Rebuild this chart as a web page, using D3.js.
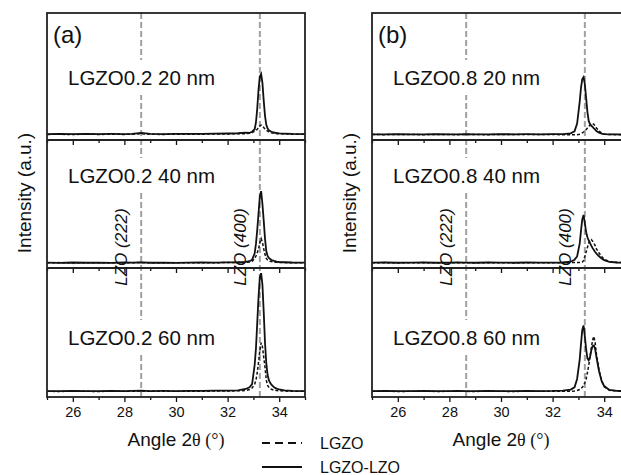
<!DOCTYPE html>
<html>
<head>
<meta charset="utf-8">
<script src="https://cdn.jsdelivr.net/npm/d3@7"></script>
<style>
  body { margin: 0; background: #fff; }
  svg { display: block; font-family: "Liberation Sans", Arial, sans-serif; }
</style>
</head>
<body>
<div id="chart"></div>
<script>
// 2theta grid shared by every scan (degrees)
const angles = [25, 25.5, 26, 26.5, 27, 27.5, 28, 28.3, 28.65, 29, 29.5, 30, 30.5, 31, 31.5, 32, 32.4, 32.7, 32.85, 32.95,
    33.05, 33.1, 33.15, 33.2, 33.25, 33.3, 33.35, 33.4, 33.45, 33.5, 33.55, 33.6, 33.65, 33.7, 33.8, 33.9, 34.0, 34.2, 34.5, 35];

// intensities (a.u., % of the sub-panel height)
const a20 =    [4.4,4.5,4.3,4.6,4.4,4.5,4.4,4.6,5.0,4.5, 4.4,4.6,4.5,4.6,4.7,4.8,4.9,5.0,5.3,5.8, 6.8,7.6,8.5,9.8,11.2,11.8,11.2,9.8,8.6,7.8, 7.0,6.4,6.0,5.6,5.2,5.0,4.9,4.7,4.6,4.5];
const a20Lzo = [4.6,4.8,4.6,4.9,4.7,4.8,4.7,4.9,5.6,4.8, 4.7,4.9,4.8,4.9,5.0,5.1,5.3,5.8,5.6,6.5, 8.5,14,25,40,50,52,45,31,19,12, 9,7.8,7,6.5,5.9,5.5,5.2,5.0,4.8,4.7];
const a40 =    [4.1,4.2,4.0,4.2,4.1,4.2,4.0,4.1,4.3,4.0, 4.1,4.2,4.1,4.2,4.1,4.3,4.3,4.4,4.6,5.2, 7.5,9.5,12,15,20,23,20,15,10.5,7.5, 6.2,5.5,5.2,5.0,4.6,4.4,4.3,4.2,4.1,4.1];
const a40Lzo = [4.2,4.0,4.3,4.1,4.2,4.0,4.3,4.2,4.4,4.1, 4.2,4.0,4.2,4.3,4.2,4.4,4.5,4.8,5.3,6.5, 11.5,19,30,43,56,60,50,37,23,13, 9.5,7.8,7,6.2,5.5,5,4.7,4.5,4.3,4.2];
const a60 =    [4.4,4.3,4.5,4.4,4.3,4.5,4.4,4.5,4.6,4.4, 4.5,4.4,4.5,4.4,4.6,4.7,4.8,5,5.8,7, 10,13,19,27,36,42,39,31,23,13, 9,7.5,6.5,6,5.3,5,4.8,4.6,4.5,4.4];
const a60Lzo = [4.6,4.5,4.7,4.5,4.6,4.8,4.6,4.7,4.9,4.6, 4.7,4.6,4.8,4.7,4.9,5.0,5.2,6.2,7.5,10, 25,38,58,78,93,96,87,66,42,26, 17,13,11,9.5,7.5,6.5,6,5.2,4.8,4.6];
const b20 =    [4.3,4.2,4.4,4.3,4.2,4.4,4.3,4.2,4.4,4.3, 4.2,4.4,4.3,4.4,4.3,4.3,4.2,4.2,4.2,4.2, 4.6,5,5.6,6.3,7.2,8.3,9.5,10.5,11.8,12.8, 13,12.4,11,9.5,7,5.5,4.8,4.3,4.2,4.3];
const b20Lzo = [4.5,4.4,4.6,4.5,4.4,4.6,4.5,4.4,4.6,4.5, 4.4,4.6,4.5,4.6,4.5,4.6,4.6,5.2,6.8,13, 30,41,48,49.5,44,33,22,15,12.5,11.2, 10.3,9.2,8.2,7,5.8,5,4.6,4.5,4.4,4.5];
const b40 =    [4.1,4.2,4.0,4.1,4.2,4.0,4.1,4.2,4.1,4.0, 4.2,4.1,4.0,4.2,4.1,4.1,4.2,4.2,4.3,4.3, 4.3,4.3,4.6,6,9,12.5,16,19.5,21.5,22.3, 21,19.5,17.5,15,11.7,9,6.8,5,4.3,4.2];
const b40Lzo = [4.2,4.3,4.1,4.2,4.3,4.1,4.2,4.3,4.2,4.1, 4.3,4.2,4.1,4.3,4.2,4.2,4.3,4.9,6.5,9, 19,29,38,41.5,35,28,24,21.5,19.5,17.5, 15.5,14,12.5,11.3,9.2,7.5,6.2,4.8,4.3,4.2];
const b60 =    [4.4,4.5,4.3,4.4,4.5,4.3,4.4,4.5,4.4,4.3, 4.5,4.4,4.3,4.5,4.4,4.4,4.5,4.5,4.6,5, 5.8,6.5,7.5,8.8,11,14,19,24.5,31,38, 44,47,42,33,21,12.5,8,5.2,4.6,4.4];
const b60Lzo = [4.6,4.7,4.5,4.6,4.7,4.5,4.6,4.7,4.6,4.5, 4.7,4.6,4.5,4.7,4.6,4.7,5,5.8,7.5,14, 29,41,52,55.5,47,37,30,28.5,31,36, 39.5,40,37,31,20,12.5,8.5,5.5,4.7,4.6];

const panelTags = ["(a)", "(b)"];
const sampleNames = [
    ["LGZO0.2 20 nm", "LGZO0.2 40 nm", "LGZO0.2 60 nm"],
    ["LGZO0.8 20 nm", "LGZO0.8 40 nm", "LGZO0.8 60 nm"]];
const lgzoScans = [[a20, a40, a60], [b20, b40, b60]];
const bilayerScans = [[a20Lzo, a40Lzo, a60Lzo], [b20Lzo, b40Lzo, b60Lzo]];
const lzoPeaks = [28.65, 33.25];
const lzoLabels = ["LZO (222)", "LZO (400)"];
const xTicks = [25, 26, 27, 28, 29, 30, 31, 32, 33, 34, 35];
const legendNames = ["LGZO", "LGZO-LZO"];

// mise en page
const W = 621, H = 475;
const panelLeft = [47, 372], panelWidth = 258;
const rowTop = [13, 140, 268], rowBottom = [140, 268, 397];
const ink = "#111";

const svg = d3.select("#chart").append("svg")
    .attr("width", W)
    .attr("height", H);
svg.append("rect").attr("width", W).attr("height", H).attr("fill", "#fff");

const x = d3.scaleLinear().domain([25, 35]).range([0, panelWidth]);

const line = (y) => d3.line()
    .x((d, i) => x(angles[i]))
    .y(d => y(d));

panelLeft.forEach((left, p) => {
    const g = svg.append("g").attr("transform", "translate(" + left + ",0)");

    // lignes de référence LZO (grises, pointillées)
    g.selectAll(".ref").data(lzoPeaks).enter()
        .append("line")
        .attr("x1", d => x(d)).attr("x2", d => x(d))
        .attr("y1", rowTop[0]).attr("y2", rowBottom[2])
        .attr("stroke", "#a0a0a0")
        .attr("stroke-width", 2)
        .attr("stroke-dasharray", "6,3");

    rowTop.forEach((top, r) => {
        const y = d3.scaleLinear().domain([0, 100]).range([rowBottom[r], top]);

        // étiquette de l'échantillon sur fond blanc
        const labelY = [85, 183, 345][r];
        const label = g.append("text")
            .attr("x", 21)
            .attr("y", labelY)
            .attr("font-size", 20.5)
            .attr("fill", ink)
            .text(sampleNames[p][r]);
        const bb = label.node().getBBox();
        g.insert("rect", "text")
            .attr("x", bb.x - 10).attr("y", bb.y - 6)
            .attr("width", bb.width + 20).attr("height", bb.height + 12)
            .attr("fill", "#fff");

        g.append("path")
            .datum(lgzoScans[p][r])
            .attr("fill", "none")
            .attr("stroke", ink)
            .attr("stroke-width", 1.5)
            .attr("stroke-dasharray", "3,2")
            .attr("d", line(y));

        g.append("path")
            .datum(bilayerScans[p][r])
            .attr("fill", "none")
            .attr("stroke", ink)
            .attr("stroke-width", 1.8)
            .attr("d", line(y));

        // axe du bas de chaque sous-graphique
        const axis = g.append("g")
            .attr("transform", "translate(0," + rowBottom[r] + ")")
            .call(d3.axisBottom(x)
                .tickValues(xTicks)
                .tickSize(5)
                .tickPadding(5)
                .tickFormat(d => (r === 2 && d % 2 === 0 && d > 25 && d < 35) ? d : ""));
        axis.select(".domain").remove();
        axis.selectAll(".tick line")
            .attr("stroke", ink)
            .attr("stroke-width", 1.3)
            .attr("y2", d => d % 2 === 0 ? 5 : 3);
        axis.selectAll(".tick text")
            .attr("font-size", 14.5)
            .attr("font-family", "Liberation Sans, Arial, sans-serif")
            .attr("fill", ink);

        if (r > 0) {
            g.append("line")
                .attr("x1", 0).attr("x2", panelWidth)
                .attr("y1", top).attr("y2", top)
                .attr("stroke", "#222").attr("stroke-width", 1.8);
        }
    });

    // cadre
    g.append("rect")
        .attr("x", 0).attr("y", rowTop[0])
        .attr("width", panelWidth).attr("height", rowBottom[2] - rowTop[0])
        .attr("fill", "none")
        .attr("stroke", "#222")
        .attr("stroke-width", 1.8);

    // LZO (222) / LZO (400)
    lzoPeaks.forEach((a, k) => {
        g.append("text")
            .attr("transform", "translate(" + (x(a) - 14) + ",247) rotate(-90)")
            .attr("text-anchor", "middle")
            .attr("font-size", 17)
            .attr("font-style", "italic")
            .attr("fill", ink)
            .text(lzoLabels[k]);
    });

    g.append("text")
        .attr("x", 6).attr("y", 43)
        .attr("font-size", 24)
        .attr("fill", ink)
        .text(panelTags[p]);

    g.append("text")
        .attr("transform", "translate(-16,193) rotate(-90)")
        .attr("text-anchor", "middle")
        .attr("font-size", 19)
        .attr("fill", ink)
        .text("Intensity (a.u.)");

    const xl = g.append("text")
        .attr("x", panelWidth / 2).attr("y", 446)
        .attr("text-anchor", "middle")
        .attr("font-size", 19)
        .attr("fill", ink);
    xl.append("tspan").text("Angle 2");
    xl.append("tspan").attr("font-family", "Liberation Serif, Times New Roman, serif").attr("font-size", 18).text("θ (°)");
});

// légende
const legend = svg.append("g");
legendNames.forEach((name, i) => {
    const ly = 443 + i * 24;
    legend.append("line")
        .attr("x1", 262).attr("x2", 302)
        .attr("y1", ly).attr("y2", ly)
        .attr("stroke", ink)
        .attr("stroke-width", 2)
        .attr("stroke-dasharray", i === 0 ? "8,5" : null);
    legend.append("text")
        .attr("x", 320).attr("y", ly + 6)
        .attr("font-size", 16)
        .attr("fill", ink)
        .text(name);
});
</script>
</body>
</html>
